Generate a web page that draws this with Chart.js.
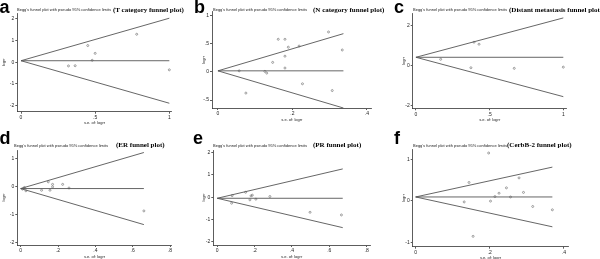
<!DOCTYPE html>
<html><head><meta charset="utf-8">
<script src="https://cdn.jsdelivr.net/npm/chart.js@4/dist/chart.umd.min.js"></script>
<style>
html,body{margin:0;padding:0;background:#fff;}
#wrap{position:relative;width:600px;height:259px;overflow:hidden;background:#fff;}
.pn{position:absolute;}
.t{position:absolute;white-space:nowrap;line-height:1;}
.let{font:bold 18px "Liberation Sans",Arial,sans-serif;color:#000;}
.sm{font:4px "Liberation Sans",Arial,sans-serif;color:#222;}
.bt{font:bold 7px "Liberation Serif","Times New Roman",serif;color:#000;}
</style></head>
<body><div id="wrap"></div>
<script>
// ---- Data ----
// a: T category
const aSe    = [0.45, 0.50, 0.78, 0.32, 0.365, 0.48, 1.00];
const aLogrr = [0.77, 0.41, 1.29, -0.17, -0.16, 0.09, -0.35];
const aLineSe = [0, 1.0];
const aPooled = [0.07, 0.07];
const aUpper  = [0.07, 2.03];
const aLower  = [0.07, -1.89];
const aXTicks = [0, 0.5, 1];      const aXTickLabels = ['0', '.5', '1'];
const aYTicks = [-2, -1, 0, 1, 2]; const aYTickLabels = ['-2', '-1', '0', '1', '2'];

// b: N category
const bSe    = [0.297, 0.334, 0.162, 0.180, 0.189, 0.218, 0.147, 0.180, 0.180, 0.126, 0.131, 0.057, 0.075, 0.227, 0.307];
const bLogrr = [0.71, 0.39, 0.58, 0.58, 0.44, 0.46, 0.17, 0.28, 0.07, 0.01, -0.02, 0.02, -0.375, -0.21, -0.33];
const bLineSe = [0, 0.337];
const bPooled = [0.02, 0.02];
const bUpper  = [0.02, 0.68];
const bLower  = [0.02, -0.64];
const bXTicks = [0, 0.2, 0.4];          const bXTickLabels = ['0', '.2', '.4'];
const bYTicks = [-0.5, 0, 0.5, 1];      const bYTickLabels = ['-.5', '0', '.5', '1'];

// c: Distant metastasis
const cSe    = [0.168, 0.394, 0.428, 0.373, 0.667, 1.0];
const cLogrr = [0.32, 1.17, 1.07, -0.10, -0.13, -0.07];
const cLineSe = [0, 1.0];
const cPooled = [0.42, 0.42];
const cUpper  = [0.42, 2.38];
const cLower  = [0.42, -1.54];
const cXTicks = [0, 0.5, 1];   const cXTickLabels = ['0', '.5', '1'];
const cYTicks = [-2, 0, 2];    const cYTickLabels = ['-2', '0', '2'];

// d: ER
const dSe    = [0.148, 0.171, 0.171, 0.225, 0.259, 0.112, 0.157, 0.02, 0.01, 0.028, 0.66];
const dLogrr = [0.18, 0.09, 0.0, 0.09, -0.04, -0.12, -0.12, -0.02, -0.08, -0.14, -0.86];
const dLineSe = [0, 0.66];
const dPooled = [-0.06, -0.06];
const dUpper  = [-0.06, 1.23];
const dLower  = [-0.06, -1.35];
const dXTicks = [0, 0.2, 0.4, 0.6, 0.8]; const dXTickLabels = ['0', '.2', '.4', '.6', '.8'];
const dYTicks = [-2, -1, 0, 1];          const dYTickLabels = ['-2', '-1', '0', '1'];

// e: PR
const eSe    = [0.08, 0.152, 0.181, 0.188, 0.175, 0.207, 0.282, 0.077, 0.497, 0.665];
const eLogrr = [0.07, 0.22, 0.06, 0.09, -0.12, -0.09, 0.03, -0.27, -0.68, -0.80];
const eLineSe = [0, 0.672];
const ePooled = [-0.05, -0.05];
const eUpper  = [-0.05, 1.27];
const eLower  = [-0.05, -1.37];
const eXTicks = [0, 0.2, 0.4, 0.6, 0.8]; const eXTickLabels = ['0', '.2', '.4', '.6', '.8'];
const eYTicks = [-2, -1, 0, 1, 2];       const eYTickLabels = ['-2', '-1', '0', '1', '2'];

// f: CerbB-2
const fSe    = [0.197, 0.144, 0.279, 0.245, 0.225, 0.291, 0.214, 0.256, 0.131, 0.202, 0.316, 0.369, 0.155];
const fLogrr = [1.15, 0.44, 0.55, 0.31, 0.18, 0.20, 0.10, 0.09, -0.03, -0.01, -0.14, -0.22, -0.86];
const fLineSe = [0, 0.369];
const fPooled = [0.09, 0.09];
const fUpper  = [0.09, 0.81];
const fLower  = [0.09, -0.63];
const fXTicks = [0, 0.2, 0.4];  const fXTickLabels = ['0', '.2', '.4'];
const fYTicks = [-1, 0, 1];     const fYTickLabels = ['-1', '0', '1'];

const smallTitle = "Begg's funnel plot with pseudo 95% confidence limits";
const yTitle = 'logrr';
const xTitle = 's.e. of: logrr';

// ---- Layout (positions / styles) ----
const panels = [
  {letter:'a', name:'(T category funnel plot)', se:aSe, y:aLogrr, lse:aLineSe, pooled:aPooled, up:aUpper, lo:aLower,
   xt:aXTicks, xl:aXTickLabels, yt:aYTicks, yl:aYTickLabels,
   left:0, top:0, w:200, h:130, L:17.3, R:171.7, T:13, B:111.7, xMin:-0.025, xMax:1.016, yMin:-2.28, yMax:2.27,
   lx:-0.5, ly:-3.5, sx:17, sy:7, bx:113, by:5.7},
  {letter:'b', name:'(N category funnel plot)', se:bSe, y:bLogrr, lse:bLineSe, pooled:bPooled, up:bUpper, lo:bLower,
   xt:bXTicks, xl:bXTickLabels, yt:bYTicks, yl:bYTickLabels,
   left:200, top:0, w:200, h:130, L:12, R:171.7, T:11.7, B:108, xMin:-0.016, xMax:0.413, yMin:-0.64, yMax:1.07,
   lx:194, ly:-3.5, sx:213, sy:7, bx:313, by:5.7},
  {letter:'c', name:'(Distant metastasis funnel plot)', se:cSe, y:cLogrr, lse:cLineSe, pooled:cPooled, up:cUpper, lo:cLower,
   xt:cXTicks, xl:cXTickLabels, yt:cYTicks, yl:cYTickLabels,
   left:400, top:0, w:200, h:130, L:12.7, R:166.7, T:13.3, B:108.3, xMin:-0.022, xMax:1.023, yMin:-2.12, yMax:2.61,
   lx:394, ly:-3.5, sx:413, sy:7, bx:509, by:5.7},
  {letter:'d', name:'(ER funnel plot)', se:dSe, y:dLogrr, lse:dLineSe, pooled:dPooled, up:dUpper, lo:dLower,
   xt:dXTicks, xl:dXTickLabels, yt:dYTicks, yl:dYTickLabels,
   left:0, top:130, w:200, h:129, L:17.3, R:171.7, T:20, B:115, xMin:-0.018, xMax:0.809, yMin:-2.08, yMax:1.32,
   lx:-0.5, ly:128, sx:14, sy:142.7, bx:116, by:140.7},
  {letter:'e', name:'(PR funnel plot)', se:eSe, y:eLogrr, lse:eLineSe, pooled:ePooled, up:eUpper, lo:eLower,
   xt:eXTicks, xl:eXTickLabels, yt:eYTicks, yl:eYTickLabels,
   left:200, top:130, w:200, h:129, L:13.3, R:170, T:20, B:115, xMin:-0.021, xMax:0.818, yMin:-2.15, yMax:2.12,
   lx:193, ly:128, sx:213, sy:142.7, bx:313, by:140.7},
  {letter:'f', name:'(CerbB-2 funnel plot)', se:fSe, y:fLogrr, lse:fLineSe, pooled:fPooled, up:fUpper, lo:fLower,
   xt:fXTicks, xl:fXTickLabels, yt:fYTicks, yl:fYTickLabels,
   left:400, top:130, w:200, h:129, L:12.7, R:168.3, T:19.3, B:116.7, xMin:-0.008, xMax:0.412, yMin:-1.11, yMax:1.24,
   lx:394, ly:128, sx:413, sy:142.7, bx:507, by:140.7},
];

Chart.defaults.font.family = '"Liberation Sans", Arial, sans-serif';
const wrap = document.getElementById('wrap');
const XH = 14;
const axisCol = '#333';

function addText(cls, txt, x, y){
  const s = document.createElement('div');
  s.className = 't ' + cls; s.textContent = txt;
  s.style.left = x + 'px'; s.style.top = y + 'px';
  wrap.appendChild(s);
}

function pts(xs, ys){ return xs.map((v,i)=>({x:v, y:ys[i]})); }

panels.forEach(p => {
  const d = document.createElement('div');
  d.className = 'pn';
  d.style.left = p.left + 'px'; d.style.top = p.top + 'px';
  d.style.width = p.w + 'px'; d.style.height = p.h + 'px';
  const cv = document.createElement('canvas');
  cv.width = p.w; cv.height = p.h;
  cv.style.width = p.w + 'px'; cv.style.height = p.h + 'px';
  d.appendChild(cv); wrap.appendChild(d);

  const lineDs = (ys) => ({data: pts(p.lse, ys), showLine:true, pointRadius:0, borderColor:'#555', borderWidth:0.9, fill:false});
  new Chart(cv.getContext('2d'), {
    type:'scatter',
    data:{datasets:[
      lineDs(p.up), lineDs(p.lo), lineDs(p.pooled),
      {data: pts(p.se, p.y), pointStyle:'circle', pointRadius:1.0, borderWidth:0.6,
       borderColor:'#666', backgroundColor:'rgba(0,0,0,0)', showLine:false}
    ]},
    options:{
      responsive:false, animation:false, devicePixelRatio:1,
      layout:{padding:{left:0, top:p.T, right:p.w - p.R, bottom:p.h - p.B - XH}},
      plugins:{legend:{display:false}, tooltip:{enabled:false}},
      elements:{line:{tension:0}},
      clip:false,
      scales:{
        x:{type:'linear', min:p.xMin, max:p.xMax,
           afterBuildTicks: ax => { ax.ticks = p.xt.map(v=>({value:v})); },
           afterFit: ax => { ax.height = XH; },
           ticks:{callback:(v,i)=>p.xl[i], font:{size:5}, color:'#222', padding:1, maxRotation:0, autoSkip:false},
           grid:{display:true, drawOnChartArea:false, drawTicks:true, tickLength:2, color:axisCol, lineWidth:0.8},
           border:{display:true, color:axisCol, width:0.8},
           title:{display:true, text:xTitle, font:{size:4}, color:'#222', padding:{top:1, bottom:0}}},
        y:{type:'linear', min:p.yMin, max:p.yMax,
           afterBuildTicks: ax => { ax.ticks = p.yt.map(v=>({value:v})); },
           afterFit: ax => { ax.width = p.L; },
           ticks:{callback:(v,i)=>p.yl[i], font:{size:5}, color:'#222', padding:1, autoSkip:false},
           grid:{display:true, drawOnChartArea:false, drawTicks:true, tickLength:2, color:axisCol, lineWidth:0.8},
           border:{display:true, color:axisCol, width:0.8},
           title:{display:true, text:yTitle, font:{size:4}, color:'#222', padding:{top:1, bottom:0}}}
      }
    }
  });

  addText('let', p.letter, p.lx, p.ly);
  addText('sm', smallTitle, p.sx, p.sy);
  addText('bt', p.name, p.bx, p.by);
});
</script>
</body></html>
